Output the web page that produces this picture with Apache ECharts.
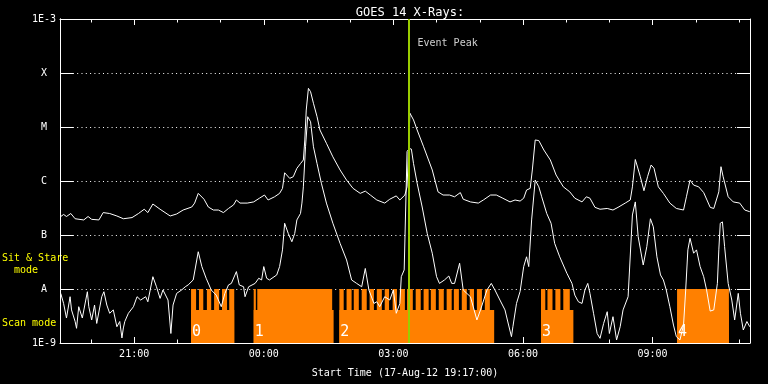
<!DOCTYPE html>
<html><head><meta charset="utf-8">
<script src="https://cdn.jsdelivr.net/npm/echarts@6/dist/echarts.min.js"></script>
<style>html,body{margin:0;padding:0;background:#000}#c{width:768px;height:384px}</style>
</head><body><div id="c"></div>
<script>
// ---- data (time in minutes after start, 17-Aug-12 19:17:00) ----
const startTimeText = 'Start Time (17-Aug-12 19:17:00)';
const chartTitle = 'GOES 14 X-Rays:';
const startClock = '19:17';
const yTickLabels = ['1E-9', 'A', 'B', 'C', 'M', 'X', '1E-3'];
const xLabelTimes = ['21:00', '00:00', '03:00', '06:00', '09:00'];
const xHourTimes = ['20:00','21:00','22:00','23:00','00:00','01:00','02:00','03:00','04:00','05:00','06:00','07:00','08:00','09:00','10:00','11:00'];
const eventPeakMin = 484;
const endMin = 958.3;

const longChannel = [[0,2.15e-7],[5,2.4e-7],[9,2.2e-7],[15,2.5e-7],[21,2.0e-7],[33,1.9e-7],[39,2.2e-7],[44,1.95e-7],[54,1.9e-7],[60,2.6e-7],[69,2.5e-7],[79,2.25e-7],[88,2.0e-7],[100,2.1e-7],[109,2.5e-7],[117,3.0e-7],[122,2.6e-7],[129,3.75e-7],[139,3.0e-7],[153,2.25e-7],[162,2.45e-7],[171,2.9e-7],[183,3.3e-7],[187,3.9e-7],[192,5.9e-7],[200,4.6e-7],[206,3.3e-7],[213,2.9e-7],[220,2.9e-7],[227,2.6e-7],[234,3.1e-7],[241,3.6e-7],[245,4.45e-7],[250,3.9e-7],[260,3.9e-7],[269,4.1e-7],[277,4.8e-7],[284,5.5e-7],[289,4.45e-7],[298,5.1e-7],[305,5.9e-7],[309,7.3e-7],[312,1.42e-6],[319,1.12e-6],[324,1.2e-6],[329,1.72e-6],[334,2.1e-6],[338,2.45e-6],[340,5.75e-6],[342,2.06e-5],[345,5.2e-5],[348,4.5e-5],[352,2.75e-5],[357,1.55e-5],[361,8.8e-6],[370,5.0e-6],[379,2.8e-6],[389,1.6e-6],[398,1.04e-6],[407,7.3e-7],[417,5.9e-7],[424,6.5e-7],[431,5.5e-7],[440,4.45e-7],[451,3.9e-7],[458,4.6e-7],[467,5.3e-7],[472,4.45e-7],[479,5.5e-7],[482,7.8e-7],[486,1.8e-5],[491,1.35e-5],[496,8.8e-6],[505,4.3e-6],[517,1.6e-6],[525,6.3e-7],[532,5.5e-7],[541,5.5e-7],[548,5.1e-7],[556,6.1e-7],[560,4.6e-7],[570,4.1e-7],[581,3.9e-7],[588,4.45e-7],[598,5.5e-7],[606,5.5e-7],[615,4.8e-7],[625,4.1e-7],[632,4.45e-7],[639,4.25e-7],[644,4.8e-7],[648,6.8e-7],[653,7.3e-7],[656,1.6e-6],[660,5.75e-6],[665,5.6e-6],[672,3.75e-6],[681,2.45e-6],[689,1.29e-6],[699,7.8e-7],[708,6.3e-7],[715,4.8e-7],[725,4.1e-7],[731,5.1e-7],[736,4.8e-7],[743,3.25e-7],[750,3.0e-7],[760,3.1e-7],[768,2.9e-7],[775,3.25e-7],[785,3.9e-7],[792,4.45e-7],[795,7.8e-7],[799,2.5e-6],[801,2.3e-6],[806,1.2e-6],[811,6.6e-7],[816,1.2e-6],[821,1.98e-6],[825,1.72e-6],[831,7.8e-7],[838,5.9e-7],[847,3.9e-7],[856,3.1e-7],[866,2.9e-7],[870,5.1e-7],[875,1.04e-6],[880,8.4e-7],[887,7.8e-7],[894,6.1e-7],[903,3.25e-7],[908,3.1e-7],[915,6.3e-7],[918,1.84e-6],[921,1.2e-6],[928,5.1e-7],[935,4.1e-7],[944,3.9e-7],[951,2.9e-7],[958,2.7e-7]];

const shortChannel = [[1,8.3e-9],[5,5.4e-9],[9,2.9e-9],[14,7.2e-9],[16,4.1e-9],[21,2.5e-9],[23,1.87e-9],[26,4.7e-9],[31,2.9e-9],[38,8.9e-9],[40,4.7e-9],[44,2.67e-9],[48,5.05e-9],[51,2.3e-9],[58,7.2e-9],[61,8.9e-9],[65,5.05e-9],[69,3.55e-9],[74,4.1e-9],[79,2.0e-9],[83,2.5e-9],[86,1.24e-9],[88,1.9e-9],[90,2.5e-9],[95,3.55e-9],[102,4.7e-9],[107,7.2e-9],[112,6.25e-9],[119,7.2e-9],[122,5.8e-9],[129,1.69e-8],[134,1.1e-8],[139,6.7e-9],[143,9.6e-9],[150,6.25e-9],[154,1.5e-9],[157,5.05e-9],[162,8.3e-9],[169,9.6e-9],[174,1.1e-8],[178,1.19e-8],[185,1.47e-8],[192,4.9e-8],[197,2.6e-8],[203,1.58e-8],[210,9.6e-9],[217,7.7e-9],[224,4.7e-9],[229,8.3e-9],[234,1.19e-8],[238,1.27e-8],[245,2.1e-8],[249,1.19e-8],[255,1.1e-8],[257,7.2e-9],[262,1.1e-8],[271,1.27e-8],[276,1.58e-8],[280,1.47e-8],[283,2.6e-8],[287,1.58e-8],[291,1.47e-8],[301,1.82e-8],[305,2.6e-8],[309,5.3e-8],[312,1.65e-7],[317,1.07e-7],[322,7.5e-8],[326,1.07e-7],[329,1.9e-7],[334,2.5e-7],[336,3.9e-7],[338,7.8e-7],[341,4.3e-6],[344,1.55e-5],[348,1.25e-5],[352,4.3e-6],[357,2.1e-6],[363,9.1e-7],[370,3.9e-7],[379,1.65e-7],[389,7.0e-8],[398,3.45e-8],[405,1.47e-8],[412,1.27e-8],[419,1.1e-8],[424,2.4e-8],[429,9.6e-9],[436,5.4e-9],[440,5.8e-9],[444,4.7e-9],[451,7.2e-9],[458,6.25e-9],[463,9.6e-9],[467,3.55e-9],[472,5.4e-9],[474,1.69e-8],[478,2.25e-8],[482,3.5e-6],[485,4.0e-6],[488,3.9e-6],[491,2.1e-6],[496,9.1e-7],[503,3.3e-7],[510,1.07e-7],[517,4.6e-8],[523,1.69e-8],[527,1.27e-8],[534,1.47e-8],[540,1.74e-8],[544,1.27e-8],[548,1.27e-8],[555,3.0e-8],[560,9.6e-9],[565,8.3e-9],[570,7.2e-9],[579,2.67e-9],[584,4.1e-9],[593,9.6e-9],[599,1.27e-8],[604,9.6e-9],[611,6.25e-9],[618,4.1e-9],[622,2.45e-9],[627,1.31e-9],[629,2.0e-9],[634,5.4e-9],[639,9.0e-9],[644,2.6e-8],[648,3.95e-8],[651,2.6e-8],[655,1.9e-7],[660,1.04e-6],[665,7.8e-7],[669,5.1e-7],[676,2.5e-7],[682,1.65e-7],[687,7.0e-8],[694,3.95e-8],[704,1.95e-8],[711,1.27e-8],[715,7.7e-9],[720,5.8e-9],[725,5.4e-9],[729,9.6e-9],[733,1.27e-8],[736,8.3e-9],[741,3.55e-9],[746,1.5e-9],[750,1.22e-9],[755,2.3e-9],[760,3.8e-9],[763,1.5e-9],[768,3.07e-9],[773,1.14e-9],[778,2.0e-9],[782,4.1e-9],[789,7.2e-9],[795,2.35e-7],[799,4.1e-7],[803,9.3e-8],[810,2.78e-8],[815,6.1e-8],[820,2.0e-7],[824,1.42e-7],[829,3.95e-8],[834,1.82e-8],[838,1.47e-8],[842,9.6e-9],[847,4.7e-9],[852,2.15e-9],[856,1.31e-9],[861,1.14e-9],[866,2.15e-9],[869,9.6e-9],[872,5.3e-8],[875,8.7e-8],[880,4.6e-8],[884,5.3e-8],[889,2.6e-8],[894,1.69e-8],[898,9.6e-9],[903,3.9e-9],[908,4.1e-9],[913,1.27e-8],[915,5.3e-8],[917,1.65e-7],[920,1.75e-7],[923,6.1e-8],[928,1.27e-8],[933,6.25e-9],[937,2.67e-9],[942,8.3e-9],[945,3.55e-9],[949,1.74e-9],[954,2.5e-9],[958,2.0e-9]];

// observing blocks (scan level, full extent) and sit & stare segments (upper level)
const blockSpans = [[182,242],[269,380],[388,603],[668,713],[857,929]];
const blockLabels = ['0','1','2','3','4'];
const blockLevel = 4.1e-9;
const stareSpans = [[182,189],[193,199],[204,210],[214,221],[225,232],[235,242],[269,272],[274,378],[388,394],[398,405],[408,415],[419,426],[430,436],[440,447],[451,457],[462,468],[472,479],[482,490],[494,501],[505,512],[515,522],[526,533],[537,544],[547,554],[558,565],[569,575],[579,586],[590,597],[668,674],[677,684],[688,695],[699,708],[857,929]];
const stareLevel = 1e-8;

// ---- chart ----
const toMin = s => (+s.slice(0, 2)) * 60 + (+s.slice(3, 5));
const START_MIN = toMin(startClock);
// clock "HH:MM" -> minutes after start
const clock = s => (toMin(s) - START_MIN + 1440) % 1440;
const fmtClock = m => {
  const t = Math.round(m + START_MIN) % 1440;
  const h = Math.floor(t / 60), mi = t % 60;
  return (h < 10 ? '0' : '') + h + ':' + (mi < 10 ? '0' : '') + mi;
};
const Y_MIN = 1e-9, Y_MAX = 1e-3;
const FONT = 'DejaVu Sans Mono';
const ORANGE = '#ff8000';
const majorVals = xLabelTimes.map(clock);
const hourVals = xHourTimes.map(clock);

const chart = echarts.init(document.getElementById('c'), null, {renderer: 'canvas'});

function rectItem(api, fill) {
  const p0 = api.coord([api.value(0), api.value(2)]);
  const p1 = api.coord([api.value(1), Y_MIN]);
  return {type: 'rect', shape: {x: p0[0], y: p0[1], width: p1[0] - p0[0], height: p1[1] - p0[1]}, style: {fill: fill}};
}

function xAxisDef(pos, vals, len, withLine, withLabels) {
  const ax = {
    type: 'value', min: 0, max: endMin, position: pos,
    axisLine: {show: withLine, lineStyle: {color: '#fff', width: 1}},
    axisTick: {show: true, inside: true, length: len, customValues: vals, lineStyle: {color: '#fff'}},
    axisLabel: {show: false},
    splitLine: {show: false}, minorTick: {show: false}
  };
  if (withLabels) {
    ax.axisLabel = {show: true, customValues: vals, color: '#fff', fontSize: 10, fontFamily: FONT, margin: 6,
      formatter: v => fmtClock(v)};
    ax.name = startTimeText; ax.nameLocation = 'middle'; ax.nameGap = 25;
    ax.nameTextStyle = {color: '#fff', fontSize: 10, fontFamily: FONT};
  }
  return ax;
}
function yAxisDef(pos, withTicks, withLabels) {
  return {
    type: 'log', logBase: 10, min: Y_MIN, max: Y_MAX, position: pos,
    axisLine: {show: true, onZero: false, lineStyle: {color: '#fff', width: 1}},
    axisTick: {show: withTicks, inside: true, length: 13, lineStyle: {color: '#fff'}},
    minorTick: {show: false},
    axisLabel: withLabels ? {show: true, color: '#fff', fontSize: 10, fontFamily: FONT, align: 'center', margin: 16,
      formatter: v => yTickLabels[Math.round(Math.log10(v)) + 9] || ''} : {show: false},
    splitLine: withLabels ? {show: true, lineStyle: {color: '#fff', width: 1, type: [1, 3.3]}} : {show: false}
  };
}

chart.setOption({
  backgroundColor: '#000',
  animation: false,
  title: {text: chartTitle, left: 405, top: 2, textAlign: 'center',
    textStyle: {color: '#fff', fontSize: 12, fontWeight: 'normal', fontFamily: FONT}},
  grid: {left: 60, right: 18, top: 19, bottom: 41, containLabel: false},
  xAxis: [
    xAxisDef('bottom', majorVals, 6, true, true),
    xAxisDef('bottom', hourVals, 3.5, false, false),
    xAxisDef('top', majorVals, 6, true, false),
    xAxisDef('top', hourVals, 3.5, false, false)
  ],
  yAxis: [
    yAxisDef('left', false, true),
    yAxisDef('right', true, false),
    yAxisDef('left', true, false)
  ],
  graphic: [
    {type: 'text', left: 2, top: 253, style: {text: 'Sit & Stare', fill: '#ffff00', font: '10px ' + FONT}},
    {type: 'text', left: 2, top: 265, style: {text: '  mode', fill: '#ffff00', font: '10px ' + FONT}},
    {type: 'text', left: 2, top: 318, style: {text: 'Scan mode', fill: '#ffff00', font: '10px ' + FONT}}
  ],
  series: [
    {type: 'custom', name: 'blocks', z: 1, xAxisIndex: 0, yAxisIndex: 0,
      encode: {x: [0, 1], y: 2},
      data: blockSpans.map(s => [s[0], s[1], blockLevel]),
      renderItem: (params, api) => {
        const r = rectItem(api, ORANGE);
        const bl = api.coord([api.value(0), Y_MIN]);
        return {type: 'group', children: [r,
          {type: 'text', x: bl[0] + 1, y: bl[1] - 3, z2: 5,
            style: {text: blockLabels[params.dataIndex], fill: '#fff', font: '15px ' + FONT, textAlign: 'left', textVerticalAlign: 'bottom'}}]};
      }},
    {type: 'custom', name: 'stare', z: 1, xAxisIndex: 0, yAxisIndex: 0,
      encode: {x: [0, 1], y: 2},
      data: stareSpans.map(s => [s[0], s[1], stareLevel]),
      renderItem: (params, api) => rectItem(api, ORANGE)},
    {type: 'line', name: 'long', z: 3, showSymbol: false, symbol: 'none', xAxisIndex: 0, yAxisIndex: 0,
      lineStyle: {color: '#fff', width: 1}, data: longChannel,
      markLine: {silent: true, symbol: 'none', label: {show: false},
        lineStyle: {color: '#fff', width: 1, type: [1, 3.3]},
        data: [{yAxis: stareLevel}]}},
    {type: 'line', name: 'short', z: 3, showSymbol: false, symbol: 'none', xAxisIndex: 0, yAxisIndex: 0,
      lineStyle: {color: '#fff', width: 1}, data: shortChannel,
      markLine: {silent: true, symbol: 'none', label: {show: false},
        lineStyle: {color: '#9acd00', width: 2, type: 'solid'},
        data: [{xAxis: eventPeakMin}]}},
    {type: 'scatter', name: 'peakLabel', z: 4, symbolSize: 0, xAxisIndex: 0, yAxisIndex: 0,
      data: [[eventPeakMin, 3.6e-4]],
      label: {show: true, position: 'right', distance: 9, formatter: 'Event Peak',
        color: '#fff', fontSize: 10, fontFamily: FONT}}
  ]
});
</script></body></html>
